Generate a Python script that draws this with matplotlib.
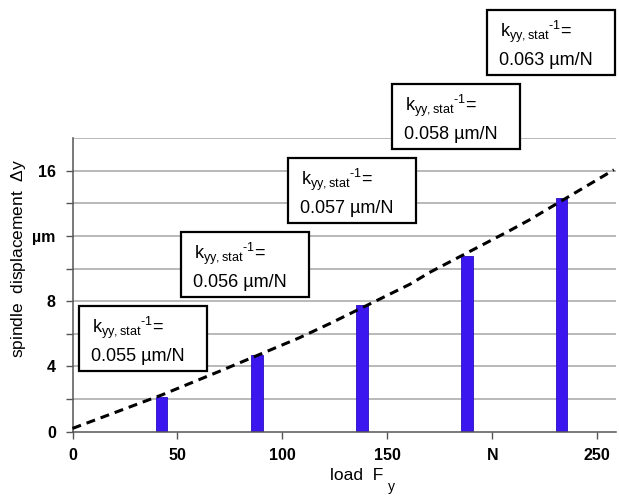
import matplotlib
matplotlib.use("Agg")
import matplotlib.pyplot as plt
from matplotlib.patches import Rectangle

# Measured spindle displacement under static load
loads = [42.5, 88, 138, 188, 233]            # N
displacement = [2.15, 4.72, 7.75, 10.78, 14.3]  # µm
compliance = ["0.055", "0.056", "0.057", "0.058", "0.063"]  # µm/N

# Dashed trend curve through the measurements
trend_load = [0, 42.5, 70, 108, 123, 161, 170, 208, 218, 258]
trend_disp = [0.2, 2.25, 3.7, 5.75, 6.65, 9.05, 9.75, 12.3, 13.0, 16.05]

x_ticks = [0, 50, 100, 150, 200, 250]
x_ticklabels = ["0", "50", "100", "150", "N", "250"]
y_ticks = [0, 4, 8, 12, 16]
y_ticklabels = ["0", "4", "8", "µm", "16"]

plt.rcParams["font.family"] = ["Liberation Sans", "DejaVu Sans"]
plt.rcParams["mathtext.fontset"] = "custom"
plt.rcParams["mathtext.rm"] = "Liberation Sans"
plt.rcParams["mathtext.it"] = "Liberation Sans"
plt.rcParams["lines.scale_dashes"] = False

W, H = 619, 496
fig = plt.figure(figsize=(W / 100, H / 100), dpi=100)
ax = fig.add_axes([72.5 / W, 1 - 431.7 / H, (616 - 72.5) / W, (431.7 - 138) / H])

ax.set_xlim(0, 259)
ax.set_ylim(0, 18)

# horizontal grid every 2 µm
for g in range(2, 19, 2):
    ax.axhline(g, color="#a6a6a6", lw=1.1, zorder=0)

ax.bar(loads, displacement, width=5.4, color="#3c16ee", edgecolor="#2a0cc0",
       linewidth=0.6, zorder=2)
ax.plot(trend_load, trend_disp, color="black", lw=2.2, dashes=(6.5, 4.3),
        zorder=3, clip_on=False)

for s in ("top", "right"):
    ax.spines[s].set_visible(False)
for s in ("left", "bottom"):
    ax.spines[s].set_color("#555555")
    ax.spines[s].set_linewidth(1.1)

ax.set_xticks(x_ticks)
ax.set_xticklabels(x_ticklabels, fontsize=11.5, fontweight="bold")
ax.set_yticks(y_ticks)
ax.set_yticks(range(2, 18, 4), minor=True)
ax.set_yticklabels(y_ticklabels, fontsize=11.5, fontweight="bold")
ax.tick_params(axis="both", which="both", direction="out", length=5,
               width=1.0, color="#555555")
ax.tick_params(axis="y", pad=7)
ax.tick_params(axis="x", pad=7)

fig.text(18.5 / W, 1 - 258 / H, "spindle  displacement  $\\Delta$y",
         rotation=90, ha="center", va="center", fontsize=12.5)
fig.text(330 / W, 1 - 480 / H, "load  F", ha="left", va="baseline",
         fontsize=12.5)
fig.text(388 / W, 1 - 491 / H, "y", ha="left", va="baseline", fontsize=10)

# Annotation boxes (top-left corner in pixels)
box_tl = [(79, 305.7), (180.7, 231.7), (288.3, 158.3), (391.7, 84), (487.3, 10)]
bw, bh = 128, 65
for (L, T), c in zip(box_tl, compliance):
    fig.patches.append(Rectangle((L / W, 1 - (T + bh) / H), bw / W, bh / H,
                                 transform=fig.transFigure, facecolor="white",
                                 edgecolor="black", lw=1.6, zorder=5))
    fig.text((L + 13) / W, 1 - (T + 27) / H,
             r"$\mathregular{k_{yy,stat}{}^{\text{-}1}}$=", fontsize=13,
             ha="left", va="baseline", zorder=6)
    fig.text((L + 12) / W, 1 - (T + 55) / H, f"{c} µm/N", fontsize=13,
             ha="left", va="baseline", zorder=6)

fig.savefig("out.png", dpi=100)
